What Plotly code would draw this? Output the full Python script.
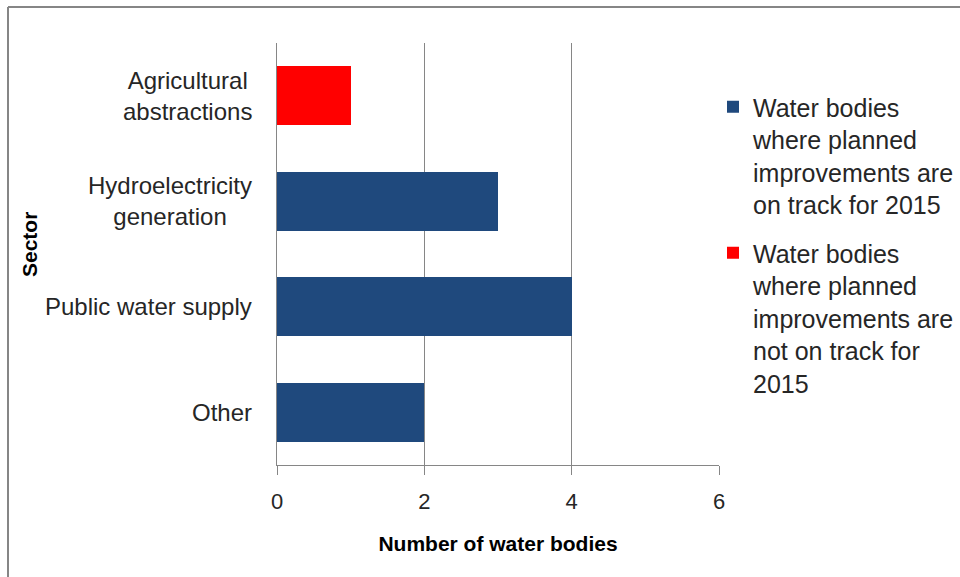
import plotly.graph_objects as go

categories = ["Agricultural abstractions", "Hydroelectricity generation", "Public water supply", "Other"]
category_labels = ["Agricultural<br>abstractions", "Hydroelectricity<br>generation", "Public water supply", "Other"]
on_track = [0, 3, 4, 2]
not_on_track = [1, 0, 0, 0]
series_names = [
    "Water bodies<br>where planned<br>improvements are<br>on track for 2015",
    "Water bodies<br>where planned<br>improvements are<br>not on track for<br>2015",
]
x_ticks = [0, 2, 4, 6]

FONT = "Liberation Sans"
TXT = "#262626"
W, H = 960, 577
L, R, T, B = 277, 241, 43, 112
PW, PH = W - L - R, H - T - B

def px_x(p):
    return (p - L) / PW

def px_y(p):
    return (H - B - p) / PH

fig = go.Figure()
fig.add_trace(go.Bar(y=categories, x=on_track, orientation="h", name=series_names[0],
                     legendgroup="a",
                     marker=dict(color="#1F497D", line=dict(width=0)), width=0.56))
fig.add_trace(go.Bar(y=categories, x=not_on_track, orientation="h", name=series_names[1],
                     legendgroup="b",
                     marker=dict(color="#FF0000", line=dict(width=0)), width=0.56))

annotations = []
for cat, lab in zip(categories, category_labels):
    annotations.append(dict(x=px_x(254), xref="paper", y=cat, yref="y", text=lab,
                            showarrow=False, xanchor="right", align="center",
                            font=dict(family=FONT, size=24, color=TXT)))
annotations.append(dict(x=px_x(30), xref="paper", y=px_y(245), yref="paper", text="<b>Sector</b>",
                        showarrow=False, textangle=-90, xanchor="center", yanchor="middle",
                        font=dict(family=FONT, size=21, color="#000000")))

shapes = [
    dict(type="line", xref="paper", yref="paper", x0=px_x(8), x1=px_x(8), y0=px_y(7), y1=px_y(590),
         line=dict(color="#868686", width=2)),
    dict(type="line", xref="paper", yref="paper", x0=px_x(8), x1=px_x(980), y0=px_y(7), y1=px_y(7),
         line=dict(color="#868686", width=2)),
]

fig.update_layout(
    width=W, height=H,
    margin=dict(l=L, r=R, t=T, b=B, autoexpand=False),
    barmode="stack",
    plot_bgcolor="white", paper_bgcolor="white",
    showlegend=True,
    legend=dict(x=px_x(713), y=px_y(84), xanchor="left", yanchor="top",
                font=dict(family=FONT, size=25, color=TXT), tracegroupgap=13,
                itemwidth=30, traceorder="grouped", valign="top", bgcolor="rgba(0,0,0,0)"),
    xaxis=dict(range=[0, 6], tickvals=x_ticks, showgrid=True, gridcolor="#868686", gridwidth=1,
               showline=True, linecolor="#868686", linewidth=1, ticks="outside", ticklen=9,
               tickcolor="#868686", zeroline=False, ticklabelstandoff=8,
               tickfont=dict(family=FONT, size=22, color=TXT),
               title=dict(text="<b>Number of water bodies</b>", standoff=22,
                          font=dict(family=FONT, size=21, color="#000000"))),
    yaxis=dict(categoryorder="array", categoryarray=categories, autorange="reversed",
               showticklabels=False, showline=True, linecolor="#868686", linewidth=1,
               showgrid=False, zeroline=False, ticks=""),
    annotations=annotations,
    shapes=shapes,
)

fig.write_html("out.html")
